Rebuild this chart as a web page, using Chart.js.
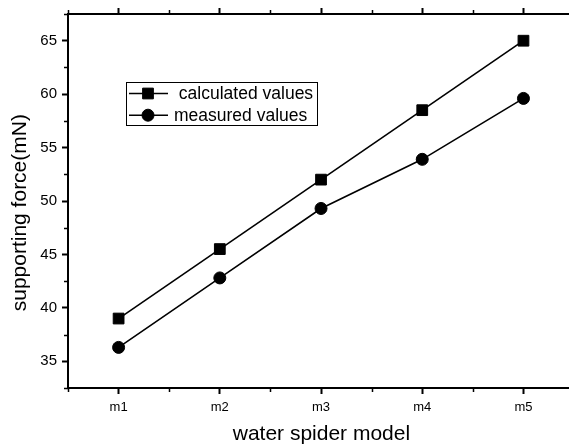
<!DOCTYPE html>
<html>
<head>
<meta charset="utf-8">
<title>supporting force</title>
<script src="https://cdn.jsdelivr.net/npm/chart.js@4.4.1/dist/chart.umd.min.js"></script>
<style>
    html, body { margin: 0; padding: 0; background: #fff; overflow: hidden; }
    #wrap { width: 569px; height: 446px; }
</style>
</head>
<body>
<div id="wrap"><canvas id="forceChart" width="569" height="446" style="width:569px;height:446px"></canvas></div>
<script>
        // Data
        const models = ['m1', 'm2', 'm3', 'm4', 'm5'];
        const calculatedValues = [39.0, 45.5, 52.0, 58.5, 65.0];
        const measuredValues = [36.3, 42.8, 49.3, 53.9, 59.6];
        const yTickValues = [35, 40, 45, 50, 55, 60, 65];
        const seriesLabels = [' calculated values', 'measured values'];

        Chart.defaults.font.family = '"Liberation Sans", Arial, sans-serif';
        Chart.defaults.color = '#000';

        // points at category positions 1..5
        function toPoints(values) {
            return values.map((v, i) => ({ x: i + 1, y: v }));
        }

        // short minor ticks between the major ones (Origin style)
        const minorTicks = {
            id: 'minorTicks',
            afterDraw(chart) {
                const ctx = chart.ctx;
                const { left, top, bottom } = chart.chartArea;
                const x = chart.scales.x;
                const y = chart.scales.y;
                ctx.save();
                ctx.strokeStyle = '#000';
                ctx.lineWidth = 1.5;
                ctx.beginPath();
                for (let v = x.min; v <= x.max + 0.001; v += 1) {
                    const px = Math.round(x.getPixelForValue(v)) + 0.5;
                    ctx.moveTo(px, bottom); ctx.lineTo(px, bottom + 4);
                    ctx.moveTo(px, top); ctx.lineTo(px, top - 4);
                }
                for (let v = y.min; v <= y.max + 0.001; v += 5) {
                    const py = Math.round(y.getPixelForValue(v)) + 0.5;
                    ctx.moveTo(left, py); ctx.lineTo(left - 4, py);
                }
                ctx.stroke();
                ctx.restore();
            }
        };

        // boxed legend inside the plot, line + marker samples
        const boxLegend = {
            id: 'boxLegend',
            afterDraw(chart, args, opts) {
                const ctx = chart.ctx;
                ctx.save();
                ctx.strokeStyle = '#000';
                ctx.fillStyle = '#000';
                ctx.lineWidth = 1;
                ctx.strokeRect(opts.x + 0.5, opts.y + 0.5, opts.width, opts.height);
                chart.data.datasets.forEach((ds, i) => {
                    const cy = opts.y + opts.firstRow + i * opts.rowGap;
                    ctx.lineWidth = ds.borderWidth;
                    ctx.beginPath();
                    ctx.moveTo(opts.x + 3, cy);
                    ctx.lineTo(opts.x + 42, cy);
                    ctx.stroke();
                    ctx.lineWidth = 1;
                    Chart.helpers.drawPoint(ctx, {
                        pointStyle: ds.pointStyle,
                        radius: ds.pointRadius,
                        borderWidth: 1,
                        rotation: 0
                    }, opts.x + 22, cy);
                    ctx.font = opts.fontSize + 'px "Liberation Sans", Arial, sans-serif';
                    ctx.textBaseline = 'middle';
                    ctx.textAlign = 'left';
                    ctx.fillText(ds.label, opts.x + 48, cy + 1);
                });
                ctx.restore();
            }
        };

        const sharedGrid = { drawOnChartArea: false, tickLength: 6, tickWidth: 2, tickColor: '#000' };
        const sharedBorder = { color: '#000', width: 2 };

        // the x axis runs on past the right edge of the picture (frame is cut off there)
        const xMin = 0.5;
        const xMax = 5.45;

        function initChart() {
            const ctx = document.getElementById('forceChart').getContext('2d');
            new Chart(ctx, {
                type: 'line',
                data: {
                    datasets: [{
                        label: seriesLabels[0],
                        data: toPoints(calculatedValues),
                        borderColor: '#000',
                        backgroundColor: '#000',
                        borderWidth: 1.6,
                        pointStyle: 'rect',
                        pointRadius: 7.6,
                        pointBorderWidth: 1,
                        pointBackgroundColor: '#000',
                        pointBorderColor: '#000',
                        tension: 0
                    }, {
                        label: seriesLabels[1],
                        data: toPoints(measuredValues),
                        borderColor: '#000',
                        backgroundColor: '#000',
                        borderWidth: 1.6,
                        pointStyle: 'circle',
                        pointRadius: 6,
                        pointBorderWidth: 1,
                        pointBackgroundColor: '#000',
                        pointBorderColor: '#000',
                        tension: 0
                    }]
                },
                options: {
                    responsive: false,
                    animation: false,
                    layout: { padding: 0, autoPadding: false },
                    plugins: {
                        legend: { display: false },
                        tooltip: { enabled: false },
                        boxLegend: { x: 126, y: 82, width: 191, height: 43, firstRow: 11.5, rowGap: 21.7, fontSize: 17.5 }
                    },
                    scales: {
                        x: {
                            type: 'linear',
                            position: 'bottom',
                            min: xMin,
                            max: xMax,
                            afterBuildTicks: s => { s.ticks = models.map((m, i) => ({ value: i + 1 })); },
                            afterFit: s => { s.height = 58; },
                            ticks: {
                                callback: v => models[v - 1],
                                font: { size: 13 },
                                color: '#000',
                                padding: 6,
                                maxRotation: 0,
                                autoSkip: false
                            },
                            grid: sharedGrid,
                            border: sharedBorder,
                            title: {
                                display: true,
                                text: ' water spider model',
                                color: '#000',
                                font: { size: 21, lineHeight: 1 },
                                padding: { top: 0, bottom: 1 }
                            }
                        },
                        x2: {
                            type: 'linear',
                            position: 'top',
                            min: xMin,
                            max: xMax,
                            afterBuildTicks: s => { s.ticks = models.map((m, i) => ({ value: i + 1 })); },
                            afterFit: s => { s.height = 12; },
                            ticks: { display: false },
                            grid: sharedGrid,
                            border: sharedBorder
                        },
                        y: {
                            type: 'linear',
                            position: 'left',
                            min: 32.5,
                            max: 67.5,
                            afterBuildTicks: s => { s.ticks = yTickValues.map(v => ({ value: v })); },
                            afterFit: s => { s.width = 68; },
                            ticks: {
                                font: { size: 15 },
                                color: '#000',
                                padding: 5
                            },
                            grid: sharedGrid,
                            border: sharedBorder,
                            title: {
                                display: true,
                                text: 'supporting force(mN)    ',
                                color: '#000',
                                font: { size: 21, lineHeight: 1 },
                                padding: { top: 10, bottom: 0 }
                            }
                        }
                    }
                },
                plugins: [minorTicks, boxLegend]
            });
        }

        initChart();
</script>
</body>
</html>
